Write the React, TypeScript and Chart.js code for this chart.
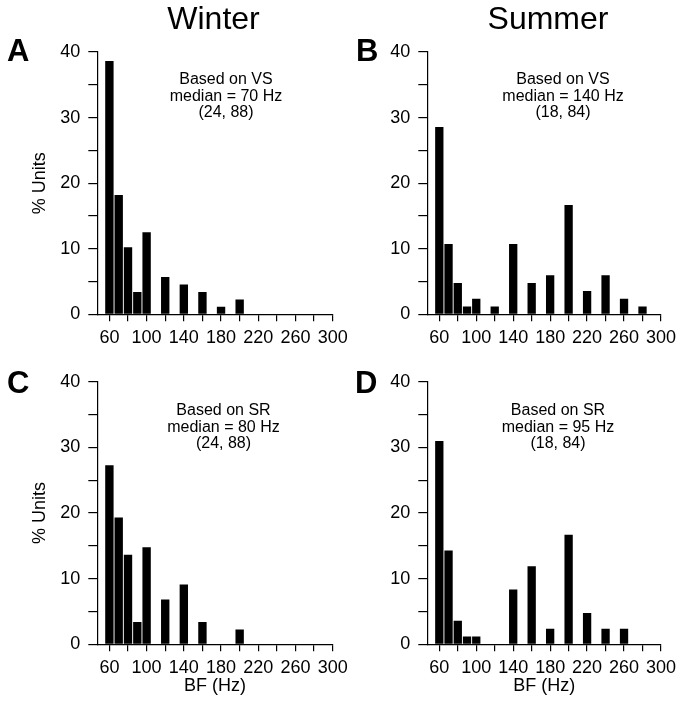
import { useEffect, useRef } from "react";
import { Chart, registerables } from "chart.js";

Chart.register(...registerables);

// ---------- data ----------
const X_TICKS = [60, 80, 100, 120, 140, 160, 180, 200, 220, 240, 260, 280, 300];
const X_LABELS = [60, 100, 140, 180, 220, 260, 300];
const Y_TICKS = [0, 5, 10, 15, 20, 25, 30, 35, 40];
const Y_LABELS = [0, 10, 20, 30, 40];

const WINTER_VS_BF = [60, 70, 80, 90, 100, 120, 140, 160, 180, 200];
const WINTER_VS_PCT = [38.64, 18.18, 10.23, 3.41, 12.5, 5.68, 4.55, 3.41, 1.14, 2.27];

const SUMMER_VS_BF = [60, 70, 80, 90, 100, 120, 140, 160, 180, 200, 220, 240, 260, 280];
const SUMMER_VS_PCT = [28.57, 10.71, 4.76, 1.19, 2.38, 1.19, 10.71, 4.76, 5.95, 16.67, 3.57, 5.95, 2.38, 1.19];

const WINTER_SR_BF = [60, 70, 80, 90, 100, 120, 140, 160, 200];
const WINTER_SR_PCT = [27.27, 19.32, 13.64, 3.41, 14.77, 6.82, 9.09, 3.41, 2.27];

const SUMMER_SR_BF = [60, 70, 80, 90, 100, 140, 160, 180, 200, 220, 240, 260];
const SUMMER_SR_PCT = [30.95, 14.29, 3.57, 1.19, 1.19, 8.33, 11.9, 2.38, 16.67, 4.76, 2.38, 2.38];

const NOTE_A = ["Based on VS", "median = 70 Hz", "(24, 88)"];
const NOTE_B = ["Based on VS", "median = 140 Hz", "(18, 84)"];
const NOTE_C = ["Based on SR", "median = 80 Hz", "(24, 88)"];
const NOTE_D = ["Based on SR", "median = 95 Hz", "(18, 84)"];

const X_MIN = 47;
const X_MAX = 300;
const Y_MAX = 40;

// ---------- layout ----------
const W = 682;
const H = 719;
const FONT = "'Liberation Sans', Arial, Helvetica, sans-serif";

type PanelCfg = {
  bf: number[];
  pct: number[];
  note: string[];
  area: { left: number; top: number; right: number; bottom: number };
  yTitle: boolean;
  xTitle: boolean;
  letter: { text: string; x: number; y: number };
  col?: { text: string; x: number; y: number };
  noteX: number;
  noteY: number;
};

const PANELS: PanelCfg[] = [
  {
    bf: WINTER_VS_BF, pct: WINTER_VS_PCT, note: NOTE_A,
    area: { left: 97.3, top: 52, right: 332.7, bottom: 314.3 },
    yTitle: true, xTitle: false,
    letter: { text: "A", x: 7, y: 61 },
    col: { text: "Winter", x: 213.5, y: 28.5 },
    noteX: 226, noteY: 84,
  },
  {
    bf: SUMMER_VS_BF, pct: SUMMER_VS_PCT, note: NOTE_B,
    area: { left: 427.3, top: 52, right: 661.7, bottom: 314.3 },
    yTitle: false, xTitle: false,
    letter: { text: "B", x: 356, y: 61 },
    col: { text: "Summer", x: 548, y: 28.5 },
    noteX: 563, noteY: 84,
  },
  {
    bf: WINTER_SR_BF, pct: WINTER_SR_PCT, note: NOTE_C,
    area: { left: 97.3, top: 381.7, right: 332.7, bottom: 644.3 },
    yTitle: true, xTitle: true,
    letter: { text: "C", x: 7, y: 392.7 },
    noteX: 223.5, noteY: 415,
  },
  {
    bf: SUMMER_SR_BF, pct: SUMMER_SR_PCT, note: NOTE_D,
    area: { left: 427.3, top: 381.7, right: 661.7, bottom: 644.3 },
    yTitle: false, xTitle: true,
    letter: { text: "D", x: 355, y: 392.7 },
    noteX: 558, noteY: 415,
  },
];

const textPlugin = {
  id: "panelText",
  afterDraw(chart: any, _args: any, opts: any) {
    const ctx = chart.ctx as CanvasRenderingContext2D;
    ctx.save();
    ctx.fillStyle = "#000";
    ctx.textBaseline = "alphabetic";
    ctx.textAlign = "left";
    ctx.font = `bold 31px ${FONT}`;
    ctx.fillText(opts.letter.text, opts.letter.x, opts.letter.y);
    if (opts.col) {
      ctx.textAlign = "center";
      ctx.font = `32px ${FONT}`;
      ctx.fillText(opts.col.text, opts.col.x, opts.col.y);
    }
    ctx.textAlign = "center";
    ctx.font = `16px ${FONT}`;
    (opts.note as string[]).forEach((line, i) => {
      ctx.fillText(line, opts.noteX, opts.noteY + i * 16.5);
    });
    ctx.restore();
  },
};

function makeConfig(p: PanelCfg): any {
  const yW = p.yTitle ? p.area.left - 24.9 : 40;
  const xH = p.xTitle ? 57 : 40;
  const tickFont = { family: FONT, size: 18 };
  return {
    type: "bar",
    data: {
      datasets: [
        {
          data: p.bf.map((x, i) => ({ x, y: p.pct[i] })),
          backgroundColor: "#000",
          borderWidth: 0,
          barPercentage: 0.9,
          categoryPercentage: 1,
        },
      ],
    },
    plugins: [textPlugin],
    options: {
      animation: false,
      responsive: false,
      events: [],
      layout: {
        padding: {
          left: p.area.left - yW,
          top: p.area.top,
          right: W - p.area.right,
          bottom: H - p.area.bottom - xH,
        },
      },
      plugins: {
        legend: { display: false },
        tooltip: { enabled: false },
        panelText: {
          letter: p.letter,
          col: p.col,
          note: p.note,
          noteX: p.noteX,
          noteY: p.noteY,
        },
      },
      scales: {
        x: {
          type: "linear",
          min: X_MIN,
          max: X_MAX,
          offset: false,
          afterBuildTicks: (s: any) => {
            s.ticks = X_TICKS.map((value) => ({ value }));
          },
          afterFit: (s: any) => {
            s.height = xH;
          },
          ticks: {
            autoSkip: false,
            maxRotation: 0,
            minRotation: 0,
            padding: 6,
            color: "#000",
            font: tickFont,
            callback: (v: number) => (X_LABELS.includes(v) ? String(v) : ""),
          },
          grid: {
            offset: false,
            drawOnChartArea: false,
            drawTicks: true,
            tickLength: 7,
            color: "#000",
            lineWidth: 1.2,
          },
          border: { display: true, color: "#000", width: 1.2 },
          title: {
            display: p.xTitle,
            text: "BF (Hz)",
            color: "#000",
            font: tickFont,
            padding: { top: 4, bottom: 4 },
          },
        },
        y: {
          type: "linear",
          min: 0,
          max: Y_MAX,
          afterBuildTicks: (s: any) => {
            s.ticks = Y_TICKS.map((value) => ({ value }));
          },
          afterFit: (s: any) => {
            s.width = yW;
          },
          ticks: {
            autoSkip: false,
            padding: 8,
            color: "#000",
            font: tickFont,
            callback: (v: number) => (Y_LABELS.includes(v) ? String(v) : ""),
          },
          grid: {
            drawOnChartArea: false,
            drawTicks: true,
            tickLength: 9,
            color: "#000",
            lineWidth: 1.2,
          },
          border: { display: true, color: "#000", width: 1.2 },
          title: {
            display: p.yTitle,
            text: "% Units",
            color: "#000",
            font: tickFont,
            padding: { top: 4, bottom: 4 },
          },
        },
      },
    },
  };
}

function Panel({ cfg }: { cfg: PanelCfg }) {
  const ref = useRef<HTMLCanvasElement>(null);
  useEffect(() => {
    const chart = new Chart(ref.current as HTMLCanvasElement, makeConfig(cfg));
    return () => chart.destroy();
  }, [cfg]);
  return (
    <canvas
      ref={ref}
      width={W}
      height={H}
      style={{ position: "absolute", left: 0, top: 0, width: W, height: H }}
    />
  );
}

export default function App() {
  return (
    <div
      style={{
        position: "absolute",
        left: 0,
        top: 0,
        width: W,
        height: H,
        background: "#fff",
        overflow: "hidden",
      }}
    >
      {PANELS.map((p, i) => (
        <Panel key={i} cfg={p} />
      ))}
    </div>
  );
}
